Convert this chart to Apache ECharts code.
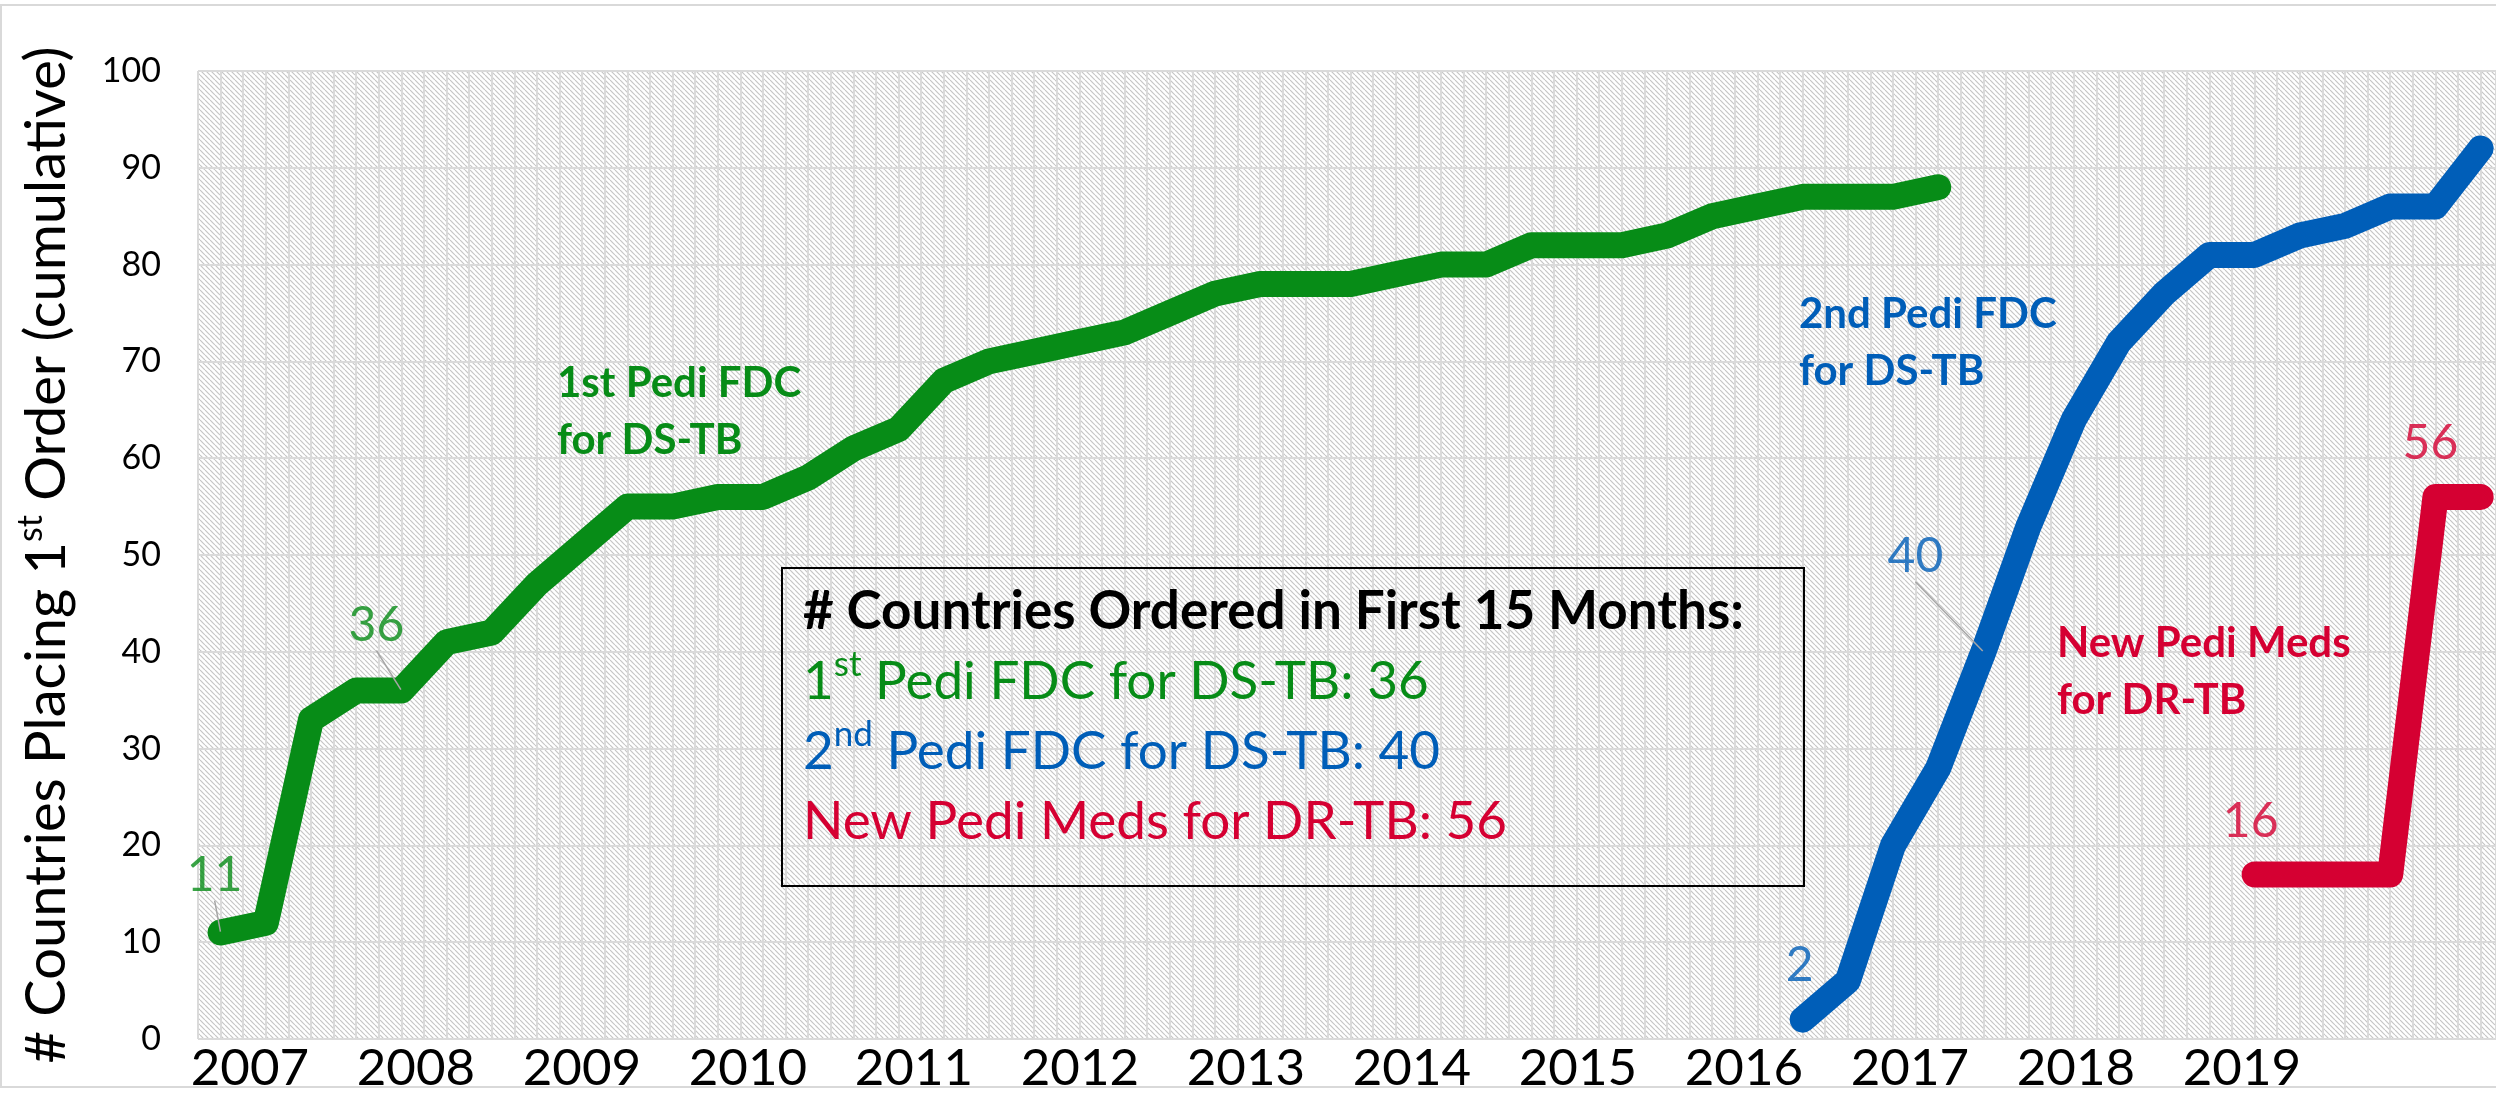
<!DOCTYPE html>
<html>
<head>
<meta charset="utf-8">
<title>Countries placing 1st order</title>
<script src="https://cdn.jsdelivr.net/npm/echarts@6.0.0/dist/echarts.min.js"></script>
<style>
  html, body { margin: 0; padding: 0; background: #fff; }
  #chart { width: 2496px; height: 1096px; }
</style>
</head>
<body>
<div id="chart"></div>
<script>
// year labels along the bottom
var years = ['2007', '2008', '2009', '2010', '2011', '2012', '2013',
             '2014', '2015', '2016', '2017', '2018', '2019'];

// cumulative # countries, one value per reporting period
var green = [11, 12, 33, 36, 36, 41, 42, 47, 51, 55, 55, 56, 56, 58, 61, 63, 68, 70, 71, 72,
             73, 75, 77, 78, 78, 78, 79, 80, 80, 82, 82, 82, 83, 85, 86, 87, 87, 87, 88];
var blue = [2, 6, 20, 28, 40, 53, 64, 72, 77, 81, 81, 83, 84, 86, 86, 92];
var red = [17, 17, 17, 17, 56, 56];
// period where each product starts
var greenStart = 0, blueStart = 35, redStart = 45;

// point callouts: series, index inside that series, text
var callouts = [
    ['green', 0, '11'],
    ['green', 4, '36'],
    ['blue', 0, '2'],
    ['blue', 4, '40'],
    ['red', 0, '16'],
    ['red', 4, '56']
];

var COL = { green: '#078c17', blue: '#005eb8', red: '#d50032' };
var FONT = 'Lato';

// label offsets (dx, dy) and whether a leader line is drawn
var calloutLayout = [[-6, -31, true], [-25, -39, true], [-3, -28, false],
                     [-68, -69, true], [-4, -27, false], [-5, -27, false]];

// where the year labels sit, in period units
var yearStart = 0.648, yearStep = 3.6726;
var yearPos = years.map(function (y, i) { return yearStart + i * yearStep; });

function toPoints(arr, start) {
    return arr.map(function (v, i) { return [start + i, v]; });
}

var seriesRef = {
    green: [green, greenStart],
    blue: [blue, blueStart],
    red: [red, redStart]
};

var calloutData = callouts.map(function (c, i) {
    var s = seriesRef[c[0]];
    return {
        value: [s[1] + c[1], s[0][c[1]]],
        label: { formatter: c[2], color: COL[c[0]] },
        labelLine: { show: calloutLayout[i][2] }
    };
});

// diagonal hatch for the plot area
var tile = document.createElement('canvas');
tile.width = 5; tile.height = 5;
var tc = tile.getContext('2d');
tc.fillStyle = '#ffffff';
tc.fillRect(0, 0, 5, 5);
tc.strokeStyle = '#c6c6c6';
tc.lineWidth = 1.2;
[-5, 0, 5].forEach(function (c) {
    tc.beginPath();
    tc.moveTo(c, 0);
    tc.lineTo(c + 5, 5);
    tc.stroke();
});

function lineSeries(name, data, start, color) {
    return {
        name: name,
        type: 'line',
        data: toPoints(data, start),
        symbol: 'none',
        silent: true,
        z: 3,
        lineStyle: { color: color, width: 26, cap: 'round', join: 'round' }
    };
}

var boxText = [
    '{h|# Countries Ordered in First 15 Months:}',
    '{g|1}{gs|st}{g| Pedi FDC for DS-TB: 36}',
    '{b|2}{bs|nd}{b| Pedi FDC for DS-TB: 40}',
    '{r|New Pedi Meds for DR-TB: 56}'
].join('\n');

function tok(color, size, bold) {
    return { fontFamily: FONT, fontSize: size, fontWeight: bold ? 'bold' : 'normal',
             fill: color, lineHeight: 70 };
}
function sup(color) {
    return { fontFamily: FONT, fontSize: 35, fill: color, lineHeight: 49, verticalAlign: 'top' };
}

var myChart = echarts.init(document.getElementById('chart'));

var option = {
    animation: false,
    backgroundColor: '#ffffff',
    grid: {
        left: 198,
        top: 71,
        width: 2298,
        height: 968,
        show: true,
        borderWidth: 0,
        backgroundColor: { image: tile, repeat: 'repeat' }
    },
    xAxis: {
        type: 'value',
        min: -0.5,
        max: 50.34,
        interval: 0.5,
        axisLine: { show: false },
        axisTick: { show: false },
        splitLine: { show: true, lineStyle: { color: '#dadada', width: 2 } },
        axisLabel: {
            customValues: yearPos,
            margin: 4,
            fontFamily: FONT,
            fontSize: 51,
            color: '#000',
            formatter: function (v) {
                return years[Math.round((v - yearStart) / yearStep)];
            }
        }
    },
    yAxis: {
        type: 'value',
        min: 0,
        max: 100,
        interval: 10,
        axisLine: { show: false },
        axisTick: { show: false },
        splitLine: { show: true, lineStyle: { color: '#dadada', width: 2 } },
        axisLabel: { margin: 37, fontFamily: FONT, fontSize: 34, color: '#000' },
        name: '# Countries Placing 1{s|st} Order (cumulative)',
        nameLocation: 'middle',
        nameRotate: 90,
        nameGap: 118,
        nameTextStyle: {
            fontFamily: FONT,
            fontSize: 56,
            color: '#000',
            lineHeight: 66,
            rich: {
                s: { fontFamily: FONT, fontSize: 34, color: '#000', lineHeight: 42, verticalAlign: 'top' }
            }
        }
    },
    series: [
        lineSeries('1st Pedi FDC for DS-TB', green, greenStart, COL.green),
        lineSeries('2nd Pedi FDC for DS-TB', blue, blueStart, COL.blue),
        lineSeries('New Pedi Meds for DR-TB', red, redStart, COL.red),
        {
            type: 'scatter',
            data: calloutData,
            symbolSize: 2,
            silent: true,
            z: 5,
            itemStyle: { color: 'rgba(0,0,0,0)' },
            label: {
                show: true,
                position: 'top',
                distance: 0,
                fontFamily: FONT,
                fontSize: 48,
                lineHeight: 50
            },
            labelLine: { show: false, lineStyle: { color: '#a6a6a6', width: 1.5 } },
            labelLayout: function (p) {
                return { dx: calloutLayout[p.dataIndex][0], dy: calloutLayout[p.dataIndex][1] };
            }
        }
    ],
    graphic: [
        {
            type: 'rect', silent: true, z: 1,
            shape: { x: 1, y: 5, width: 2500, height: 1082 },
            style: { fill: 'none', stroke: '#d9d9d9', lineWidth: 2 }
        },
        {
            type: 'rect', silent: true, z: 10,
            shape: { x: 782, y: 568, width: 1022, height: 318 },
            style: { fill: 'none', stroke: '#000', lineWidth: 2 }
        },
        {
            type: 'text', silent: true, z: 10, x: 803, y: 577,
            style: {
                text: boxText,
                verticalAlign: 'top',
                rich: {
                    h: tok('#000', 53, true),
                    g: tok(COL.green, 53), gs: sup(COL.green),
                    b: tok(COL.blue, 53), bs: sup(COL.blue),
                    r: tok(COL.red, 53)
                }
            }
        },
        {
            type: 'text', silent: true, z: 10, x: 557, y: 355,
            style: { text: '1st Pedi FDC\nfor DS-TB', fill: COL.green, fontFamily: FONT,
                     fontWeight: 'bold', fontSize: 42, lineHeight: 57, verticalAlign: 'top' }
        },
        {
            type: 'text', silent: true, z: 10, x: 1799, y: 286,
            style: { text: '2nd Pedi FDC\nfor DS-TB', fill: COL.blue, fontFamily: FONT,
                     fontWeight: 'bold', fontSize: 42, lineHeight: 57, verticalAlign: 'top' }
        },
        {
            type: 'text', silent: true, z: 10, x: 2057, y: 615,
            style: { text: 'New Pedi Meds\nfor DR-TB', fill: COL.red, fontFamily: FONT,
                     fontWeight: 'bold', fontSize: 42, lineHeight: 57, verticalAlign: 'top' }
        }
    ]
};

myChart.setOption(option);
</script>
</body>
</html>
